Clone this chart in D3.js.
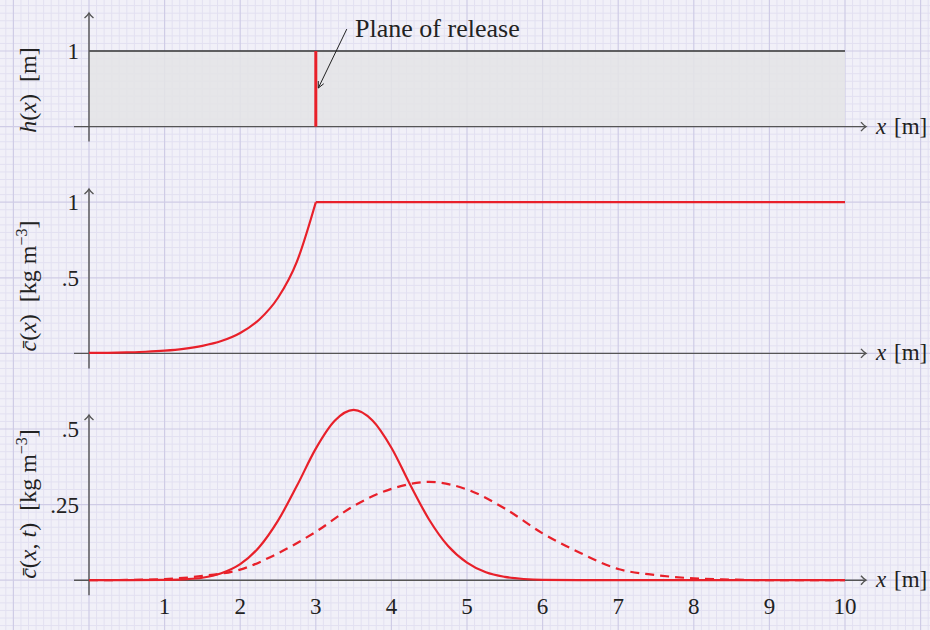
<!DOCTYPE html>
<html>
<head>
<meta charset="utf-8">
<script src="https://cdn.jsdelivr.net/npm/d3@7"></script>
<style>
  html, body { margin: 0; padding: 0; background: #f1f0f8; }
  svg { display: block; }
  text { font-family: 'Liberation Serif', 'Times New Roman', serif; fill: #222; }
</style>
</head>
<body>
<svg id="chart" width="930" height="630"></svg>
<script>
// x positions shared by all three panels (metres)
const xTicks = [1, 2, 3, 4, 5, 6, 7, 8, 9, 10]
const xTickLabels = ['1', '2', '3', '4', '5', '6', '7', '8', '9', '10']

// panel 1: water depth h(x)
const hX = [0, 10]
const hY = [1, 1]
const hTicks = [1]
const hTickLabels = ['1']
const releaseX = 3

// panel 2: steady concentration, rising part then plateau
const cRiseX = [0, 0.25, 0.5, 0.75, 1, 1.25, 1.5, 1.75, 2, 2.25, 2.5, 2.75, 3]
const cRiseY = [0.003, 0.004, 0.007, 0.011, 0.018, 0.03, 0.05, 0.082, 0.135, 0.223, 0.368, 0.607, 1]
const cFlatX = [3, 10]
const cFlatY = [1, 1]
const cTicks = [0.5, 1]
const cTickLabels = ['.5', '1']

// panel 3: concentration at two times
const ctX = [0, 0.5, 1, 1.25, 1.5, 1.75, 2, 2.25, 2.5, 2.75, 3, 3.25, 3.5, 3.75, 4, 4.25, 4.5, 4.75, 5, 5.25, 5.5, 5.75, 6, 6.5, 7, 8, 9, 10]
const ctEarly = [0, 0, 0.001, 0.003, 0.008, 0.023, 0.053, 0.109, 0.197, 0.312, 0.435, 0.527, 0.563, 0.528, 0.438, 0.315, 0.2, 0.113, 0.058, 0.026, 0.011, 0.004, 0.001, 0, 0, 0, 0, 0]
const ctLateX = [0, 0.5, 1, 1.5, 2, 2.5, 3, 3.5, 4, 4.5, 5, 5.5, 6, 6.5, 7, 7.5, 8, 8.5, 9, 10]
const ctLate = [0, 0.001, 0.004, 0.014, 0.035, 0.089, 0.16, 0.245, 0.302, 0.325, 0.3, 0.237, 0.155, 0.09, 0.037, 0.017, 0.006, 0.002, 0, 0]
const ctTicks = [0.25, 0.5]
const ctTickLabels = ['.25', '.5']

const W = 930, H = 630
const red = '#e8202a'
const axisCol = '#555'

const svg = d3.select('#chart')

const x = d3.scaleLinear().domain([0, 10]).range([89, 845])
const unit = x(1) - x(0)

const yH = d3.scaleLinear().domain([0, 1]).range([126.6, 126.6 - unit])
const yC = d3.scaleLinear().domain([0, 1]).range([353.4, 353.4 - 2 * unit])
const yCt = d3.scaleLinear().domain([0, 0.5]).range([580.2, 580.2 - 2 * unit])

// background graph paper
const grid = svg.append('g')
const minor = unit / 10
const x0 = x(0), gy0 = yH(1)
const vMinor = d3.range(Math.ceil(-x0 / minor), Math.floor((W - x0) / minor) + 1)
const hMinor = d3.range(Math.ceil(-gy0 / minor), Math.floor((H - gy0) / minor) + 1)

grid.selectAll('.vmin').data(vMinor.filter(k => k % 10 !== 0)).enter()
  .append('line')
  .attr('x1', k => x0 + k * minor).attr('x2', k => x0 + k * minor)
  .attr('y1', 0).attr('y2', H)
  .attr('stroke', '#e2e0f1').attr('stroke-width', 1)
grid.selectAll('.hmin').data(hMinor.filter(k => k % 10 !== 0)).enter()
  .append('line')
  .attr('y1', k => gy0 + k * minor).attr('y2', k => gy0 + k * minor)
  .attr('x1', 0).attr('x2', W)
  .attr('stroke', '#e2e0f1').attr('stroke-width', 1)
grid.selectAll('.vmaj').data(vMinor.filter(k => k % 10 === 0)).enter()
  .append('line')
  .attr('x1', k => x0 + k * minor).attr('x2', k => x0 + k * minor)
  .attr('y1', 0).attr('y2', H)
  .attr('stroke', '#cfcce6').attr('stroke-width', 1.2)
grid.selectAll('.hmaj').data(hMinor.filter(k => k % 10 === 0)).enter()
  .append('line')
  .attr('y1', k => gy0 + k * minor).attr('y2', k => gy0 + k * minor)
  .attr('x1', 0).attr('x2', W)
  .attr('stroke', '#cfcce6').attr('stroke-width', 1.2)

// panel 1 fill
const hData = hX.map((d, i) => ({ x: d, y: hY[i] }))
svg.append('path')
  .datum(hData)
  .attr('d', d3.area().x(d => x(d.x)).y0(yH(0)).y1(d => yH(d.y)))
  .attr('fill', '#e4e4e6')
  .attr('fill-opacity', 0.88)
svg.append('path')
  .datum(hData)
  .attr('d', d3.line().x(d => x(d.x)).y(d => yH(d.y)))
  .attr('fill', 'none')
  .attr('stroke', '#333')
  .attr('stroke-width', 1.3)

// axes with open arrow heads
const drawAxes = (yScale, yTop) => {
  const y0 = yScale(0)
  const g = svg.append('g').attr('stroke', axisCol).attr('stroke-width', 1.4).attr('fill', 'none')
  g.append('line').attr('x1', x(0) - 15).attr('x2', 866).attr('y1', y0).attr('y2', y0)
  g.append('line').attr('x1', x(0)).attr('x2', x(0)).attr('y1', y0 + 15).attr('y2', yTop)
  g.append('path').attr('d', `M ${866 - 5},${y0 - 4.5} Q ${866 - 2},${y0 - 1} ${866},${y0} Q ${866 - 2},${y0 + 1} ${866 - 5},${y0 + 4.5}`)
  g.append('path').attr('d', `M ${x(0) - 4.5},${yTop + 5} Q ${x(0) - 1},${yTop + 2} ${x(0)},${yTop} Q ${x(0) + 1},${yTop + 2} ${x(0) + 4.5},${yTop + 5}`)
  svg.append('text')
    .attr('x', 876).attr('y', y0 + 7)
    .attr('font-size', 23)
    .html('<tspan font-style="italic">x</tspan> <tspan dx="2">[m]</tspan>')
}

drawAxes(yH, 13)
drawAxes(yC, 189)
drawAxes(yCt, 415)

// y tick labels
const yTickLabels = (yScale, ticks, labels) => {
  svg.append('g').selectAll('text').data(ticks).enter()
    .append('text')
    .attr('x', 79)
    .attr('y', d => yScale(d) + 8)
    .attr('text-anchor', 'end')
    .attr('font-size', 23)
    .text((d, i) => labels[i])
}
yTickLabels(yH, hTicks, hTickLabels)
yTickLabels(yC, cTicks, cTickLabels)
yTickLabels(yCt, ctTicks, ctTickLabels)

// x tick labels under the bottom panel
svg.append('g').selectAll('text').data(xTicks).enter()
  .append('text')
  .attr('x', d => x(d))
  .attr('y', 614)
  .attr('text-anchor', 'middle')
  .attr('font-size', 23)
  .text((d, i) => xTickLabels[i])

// rotated axis titles
const yTitle = (cy, html) => {
  svg.append('text')
    .attr('transform', `translate(36,${cy}) rotate(-90)`)
    .attr('text-anchor', 'middle')
    .attr('font-size', 24)
    .attr('xml:space', 'preserve')
    .html(html)
}
yTitle(90, '<tspan font-style="italic">h</tspan>(<tspan font-style="italic">x</tspan>)  [m]')
yTitle(286, '<tspan font-style="italic">c\u0304</tspan>(<tspan font-style="italic">x</tspan>)  [kg m<tspan dy="-9" font-size="16">\u22123</tspan><tspan dy="9">]</tspan>')
yTitle(504, '<tspan font-style="italic">c\u0304</tspan>(<tspan font-style="italic">x</tspan>, <tspan font-style="italic">t</tspan>)  [kg m<tspan dy="-9" font-size="16">\u22123</tspan><tspan dy="9">]</tspan>')

// release plane and its annotation
svg.append('line')
  .attr('x1', x(releaseX)).attr('x2', x(releaseX))
  .attr('y1', yH(0)).attr('y2', yH(1))
  .attr('stroke', red).attr('stroke-width', 3)

const ax1 = x(releaseX) + 0.41 * unit, ay1 = yH(1.29)
const ax2 = x(releaseX) + 2.5, ay2 = yH(0.51)
svg.append('line')
  .attr('x1', ax1).attr('y1', ay1).attr('x2', ax2).attr('y2', ay2)
  .attr('stroke', '#222').attr('stroke-width', 1)
const ang = Math.atan2(ay2 - ay1, ax2 - ax1)
const hl = 7
svg.append('path')
  .attr('d', `M ${ax2 - hl * Math.cos(ang - 0.45)},${ay2 - hl * Math.sin(ang - 0.45)} L ${ax2},${ay2} L ${ax2 - hl * Math.cos(ang + 0.45)},${ay2 - hl * Math.sin(ang + 0.45)}`)
  .attr('fill', 'none').attr('stroke', '#222').attr('stroke-width', 1)
svg.append('text')
  .attr('x', x(releaseX) + 0.52 * unit)
  .attr('y', yH(1.185))
  .attr('font-size', 26)
  .text('Plane of release')

// panel 2 curve
const rise = cRiseX.map((d, i) => ({ x: d, y: cRiseY[i] }))
const flat = cFlatX.map((d, i) => ({ x: d, y: cFlatY[i] }))
const lineC = d3.line().x(d => x(d.x)).y(d => yC(d.y))
svg.append('path')
  .datum(rise)
  .attr('d', lineC.curve(d3.curveMonotoneX))
  .attr('fill', 'none').attr('stroke', red).attr('stroke-width', 2.2)
svg.append('path')
  .datum(flat)
  .attr('d', d3.line().x(d => x(d.x)).y(d => yC(d.y)))
  .attr('fill', 'none').attr('stroke', red).attr('stroke-width', 2.2)

// panel 3 curves
const lineCt = d3.line().x(d => x(d.x)).y(d => yCt(d.y)).curve(d3.curveMonotoneX)
svg.append('path')
  .datum(ctLateX.map((d, i) => ({ x: d, y: ctLate[i] })))
  .attr('d', lineCt)
  .attr('fill', 'none').attr('stroke', red).attr('stroke-width', 2.2)
  .attr('stroke-dasharray', '9,6')
svg.append('path')
  .datum(ctX.map((d, i) => ({ x: d, y: ctEarly[i] })))
  .attr('d', lineCt)
  .attr('fill', 'none').attr('stroke', red).attr('stroke-width', 2.2)
</script>
</body>
</html>
